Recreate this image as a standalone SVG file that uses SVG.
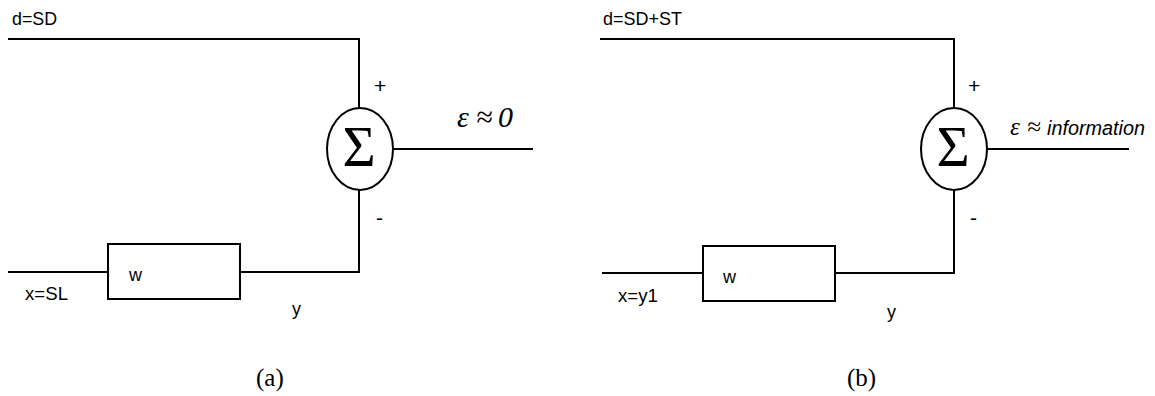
<svg xmlns="http://www.w3.org/2000/svg" width="1155" height="396" viewBox="0 0 1155 396">
<style>
.ln{fill:none;stroke:#000;stroke-width:2}
.sh{fill:#fff;stroke:#000;stroke-width:2}
.s{font-family:"Liberation Sans",Arial,sans-serif;font-size:18px;fill:#000}
.pm{font-family:"Liberation Sans",Arial,sans-serif;font-size:21px;fill:#000}
.sig{font-family:"Liberation Serif","Times New Roman",serif;font-size:57px;fill:#000}
.cap{font-family:"Liberation Serif","Times New Roman",serif;font-size:25px;fill:#000}
.eps{font-family:"Liberation Serif","Times New Roman",serif;font-style:italic;font-size:30px;fill:#000}
.eps2{font-family:"Liberation Serif","Times New Roman",serif;font-style:italic;font-size:25px;fill:#000}
.inf{font-family:"Liberation Sans",Arial,sans-serif;font-style:italic;font-size:20px;fill:#000}
</style>
<rect width="1155" height="396" fill="#fff"/>
<g id="connectors">
<polyline class="ln" points="8,39 359,39 359,108"/>
<polyline class="ln" points="359,190 359,272 240,272"/>
<line class="ln" x1="8" y1="272" x2="108" y2="272"/>
<line class="ln" x1="393" y1="149" x2="533" y2="149"/>
<polyline class="ln" points="600,39 954,39 954,108"/>
<polyline class="ln" points="954,190 954,273 835,273"/>
<line class="ln" x1="602" y1="273" x2="703" y2="273"/>
<line class="ln" x1="987" y1="149" x2="1129" y2="149"/>
</g>
<g id="panel-a">
<text class="s" x="12" y="25" textLength="45" lengthAdjust="spacingAndGlyphs">d=SD</text>
<text class="pm" x="374" y="93">+</text>
<text class="pm" x="376" y="225">-</text>
<text class="s" x="25" y="300" textLength="43" lengthAdjust="spacingAndGlyphs">x=SL</text>
<text class="s" x="292" y="315">y</text>
<text class="eps" x="457" y="127">ε</text>
<text class="eps" x="476" y="127">≈</text>
<text class="eps" x="498" y="127">0</text>
<text class="cap" x="256" y="386">(a)</text>
</g>
<g id="sum-a">
<ellipse class="sh" cx="360" cy="149" rx="33" ry="41"/>
<text class="sig" x="359" y="166" text-anchor="middle">Σ</text>
</g>
<g id="w-a">
<rect class="sh" x="108" y="244" width="132" height="55"/>
<text class="s" x="129" y="281">w</text>
</g>
<g id="panel-b">
<text class="s" x="603" y="25" textLength="79" lengthAdjust="spacingAndGlyphs">d=SD+ST</text>
<text class="pm" x="968" y="93">+</text>
<text class="pm" x="970" y="225">-</text>
<text class="s" x="618" y="302" textLength="40" lengthAdjust="spacingAndGlyphs">x=y1</text>
<text class="s" x="887" y="318">y</text>
<text class="eps2" x="1010" y="135">ε</text>
<text class="eps2" x="1027" y="135">≈</text>
<text class="inf" x="1047" y="135" textLength="98" lengthAdjust="spacingAndGlyphs">information</text>
<text class="cap" x="847" y="386">(b)</text>
</g>
<g id="sum-b">
<ellipse class="sh" cx="954" cy="149" rx="33" ry="41"/>
<text class="sig" x="953" y="166" text-anchor="middle">Σ</text>
</g>
<g id="w-b">
<rect class="sh" x="703" y="246" width="132" height="55"/>
<text class="s" x="723" y="283">w</text>
</g>
</svg>
